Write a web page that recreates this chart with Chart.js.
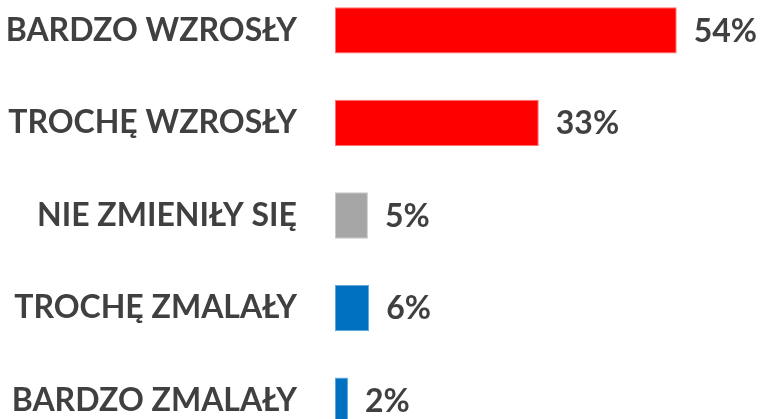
<!DOCTYPE html>
<html>
<head>
<meta charset="utf-8">
<script src="https://cdn.jsdelivr.net/npm/chart.js@4"></script>
<style>
  html, body { margin: 0; padding: 0; background: #fff; overflow: hidden; }
  body { width: 761px; height: 419px; position: relative; }
  /* the first and last rows sit close to the picture edges, so the canvas overhangs a bit */
  #wrap { position: absolute; left: 0; top: -16px; width: 761px; height: 463px; }
</style>
</head>
<body>
<div id="wrap"><canvas id="bars"></canvas></div>
<script>
// categories and values
const categories = ['BARDZO WZROSŁY', 'TROCHĘ WZROSŁY', 'NIE ZMIENIŁY SIĘ', 'TROCHĘ ZMALAŁY', 'BARDZO ZMALAŁY']
const shares = [54, 32.2, 5.2, 5.4, 2.05]
const shareLabels = ['54%', '33%', '5%', '6%', '2%']
const fills = ['#FF0000', '#FF0000', '#A6A6A6', '#0070C0', '#0070C0']
const edges = ['#FF6F6F', '#FF6F6F', '#C9C9C9', '#5FA6DD', '#5FA6DD']

const textGrey = '#404040'
const fontFamily = 'Lato, "Open Sans", sans-serif'

// draws the percentages at the end of each bar
const valueLabels = {
    id: 'valueLabels',
    afterDatasetsDraw(chart) {
        const ctx = chart.ctx
        const meta = chart.getDatasetMeta(0)
        ctx.save()
        ctx.fillStyle = textGrey
        ctx.font = 'bold 32px ' + fontFamily
        ctx.textAlign = 'left'
        ctx.textBaseline = 'middle'
        meta.data.forEach((bar, i) => {
            ctx.fillText(shareLabels[i], bar.x + 17, bar.y + 1)
        })
        ctx.restore()
    }
}

const ctx = document.getElementById('bars').getContext('2d')
new Chart(ctx, {
    type: 'bar',
    data: {
        labels: categories,
        datasets: [{
            data: shares,
            backgroundColor: fills,
            borderColor: edges,
            borderWidth: 1,
            borderSkipped: false,
            barPercentage: 0.5,
            categoryPercentage: 1
        }]
    },
    options: {
        indexAxis: 'y',
        responsive: true,
        maintainAspectRatio: false,
        animation: false,
        layout: { padding: { left: 0, right: 21, top: 0, bottom: 0 } },
        scales: {
            x: {
                display: false,
                min: 0,
                max: 64
            },
            y: {
                grid: { display: false, drawTicks: false },
                border: { display: false },
                afterFit(scale) {
                    // fixed label column, and no extra room above/below the rows
                    scale.width = 335
                    scale.paddingTop = 0
                    scale.paddingBottom = 0
                },
                ticks: {
                    padding: 38,
                    color: textGrey,
                    font: { family: fontFamily, size: 32, weight: 'bold' }
                }
            }
        },
        plugins: {
            legend: { display: false },
            tooltip: { enabled: false }
        }
    },
    plugins: [valueLabels]
})
</script>
</body>
</html>
